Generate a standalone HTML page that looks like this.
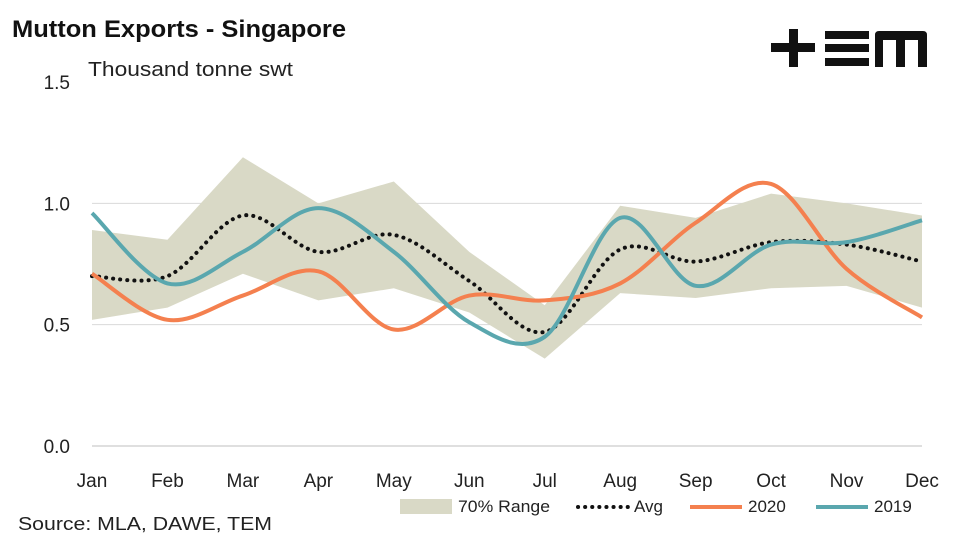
<!DOCTYPE html>
<html><head><meta charset="utf-8"><style>
body{margin:0;background:#fff;font-family:"Liberation Sans",sans-serif;}
svg text{font-family:"Liberation Sans",sans-serif;}
</style></head><body>
<svg id="c" width="962" height="541" viewBox="0 0 962 541">
<text x="12" y="37" font-size="24" font-weight="bold" fill="#111" textLength="334" lengthAdjust="spacingAndGlyphs">Mutton Exports - Singapore</text>
<text x="88" y="76" font-size="20" fill="#222" textLength="205" lengthAdjust="spacingAndGlyphs">Thousand tonne swt</text>
<g fill="#111">
<rect x="771" y="43" width="44" height="9"/><rect x="789" y="29" width="9" height="38"/>
<rect x="825" y="31" width="44" height="8"/><rect x="825" y="44" width="44" height="8"/><rect x="825" y="58" width="44" height="8"/>
<path d="M875 67V35q0-4 4-4h44q4 0 4 4v32h-9V40h-13v27h-9V40h-13v27z"/>
</g>
<g id="grid"></g><g id="marks"></g><g id="axes"></g>
<text x="18" y="530" font-size="18" fill="#222" textLength="254" lengthAdjust="spacingAndGlyphs">Source: MLA, DAWE, TEM</text>
<g font-size="17" fill="#222">
<g><rect x="400" y="499" width="52" height="15" fill="#d9d9c6"/><text x="458" y="512" textLength="92" lengthAdjust="spacingAndGlyphs">70% Range</text></g>
<g><line x1="578" y1="507" x2="630" y2="507" stroke="#111" stroke-width="4" stroke-dasharray="0.1 7" stroke-linecap="round"/><text x="634" y="512">Avg</text></g>
<g><line x1="690" y1="507" x2="742" y2="507" stroke="#f4804f" stroke-width="4"/><text x="748" y="512">2020</text></g>
<g><line x1="816" y1="507" x2="868" y2="507" stroke="#5aa7ae" stroke-width="4"/><text x="874" y="512">2019</text></g>
</g>
</svg>
<script>
const months=["Jan","Feb","Mar","Apr","May","Jun","Jul","Aug","Sep","Oct","Nov","Dec"];
const rangeHigh=[0.89,0.85,1.19,1.0,1.09,0.80,0.58,0.99,0.94,1.04,1.0,0.95];
const rangeLow=[0.52,0.57,0.71,0.60,0.65,0.55,0.36,0.63,0.61,0.65,0.66,0.57];
const avg=[0.70,0.70,0.95,0.80,0.87,0.68,0.47,0.81,0.76,0.84,0.83,0.76];
const s2020=[0.71,0.52,0.62,0.72,0.48,0.62,0.60,0.67,0.92,1.08,0.73,0.53];
const s2019=[0.96,0.67,0.80,0.98,0.80,0.51,0.45,0.94,0.66,0.83,0.84,0.93];
const yTicks=[0,0.5,1.0,1.5];
const yLabels=["0.0","0.5","1.0","1.5"];
const NS="http://www.w3.org/2000/svg";
const X=i=>92+i*(922-92)/11, Y=v=>446-v*(446-82)/1.5;
function mk(t,a,p){const e=document.createElementNS(NS,t);for(const k in a)e.setAttribute(k,a[k]);p.appendChild(e);return e;}
const grid=document.getElementById('grid'),marks=document.getElementById('marks'),axes=document.getElementById('axes');
yTicks.forEach((v,i)=>{
 if(v>0&&v<1.5){const g=mk('line',{x1:92,x2:922,y1:Y(v),y2:Y(v),stroke:'#d9d9d9','stroke-width':1},grid);
 
 }
 const t=mk('text',{x:70,y:Y(v)+7,'font-size':19,'text-anchor':'end',fill:'#222'},axes);t.textContent=yLabels[i];
 
 
});
const ax=mk('line',{x1:92,x2:922,y1:Y(0),y2:Y(0),stroke:'#bfbfbf','stroke-width':1},axes);


months.forEach((m,i)=>{const t=mk('text',{x:X(i),y:487,'font-size':19,'text-anchor':'middle',fill:'#222'},axes);t.textContent=m;
 
 });
let pts=rangeHigh.map((v,i)=>X(i)+','+Y(v)).concat(rangeLow.map((v,i)=>[X(i),Y(v)]).reverse().map(p=>p.join(',')));
const band=mk('polygon',{points:pts.join(' '),fill:'#d9d9c6'},marks);


function smooth(arr){const p=arr.map((v,i)=>[X(i),Y(v)]);let d='M'+p[0];
 for(let i=0;i<p.length-1;i++){const p0=p[i-1]||p[i],p1=p[i],p2=p[i+1],p3=p[i+2]||p2;const k=1/6;
 d+=' C'+(p1[0]+(p2[0]-p0[0])*k)+','+(p1[1]+(p2[1]-p0[1])*k)+' '+(p2[0]-(p3[0]-p1[0])*k)+','+(p2[1]-(p3[1]-p1[1])*k)+' '+p2;}
 return d;}
const la=mk('path',{d:smooth(avg),fill:'none',stroke:'#111','stroke-width':4,'stroke-dasharray':'0.1 7','stroke-linecap':'round'},marks);


const l20=mk('path',{d:smooth(s2020),fill:'none',stroke:'#f4804f','stroke-width':4},marks);


const l19=mk('path',{d:smooth(s2019),fill:'none',stroke:'#5aa7ae','stroke-width':4},marks);


</script>
</body></html>
